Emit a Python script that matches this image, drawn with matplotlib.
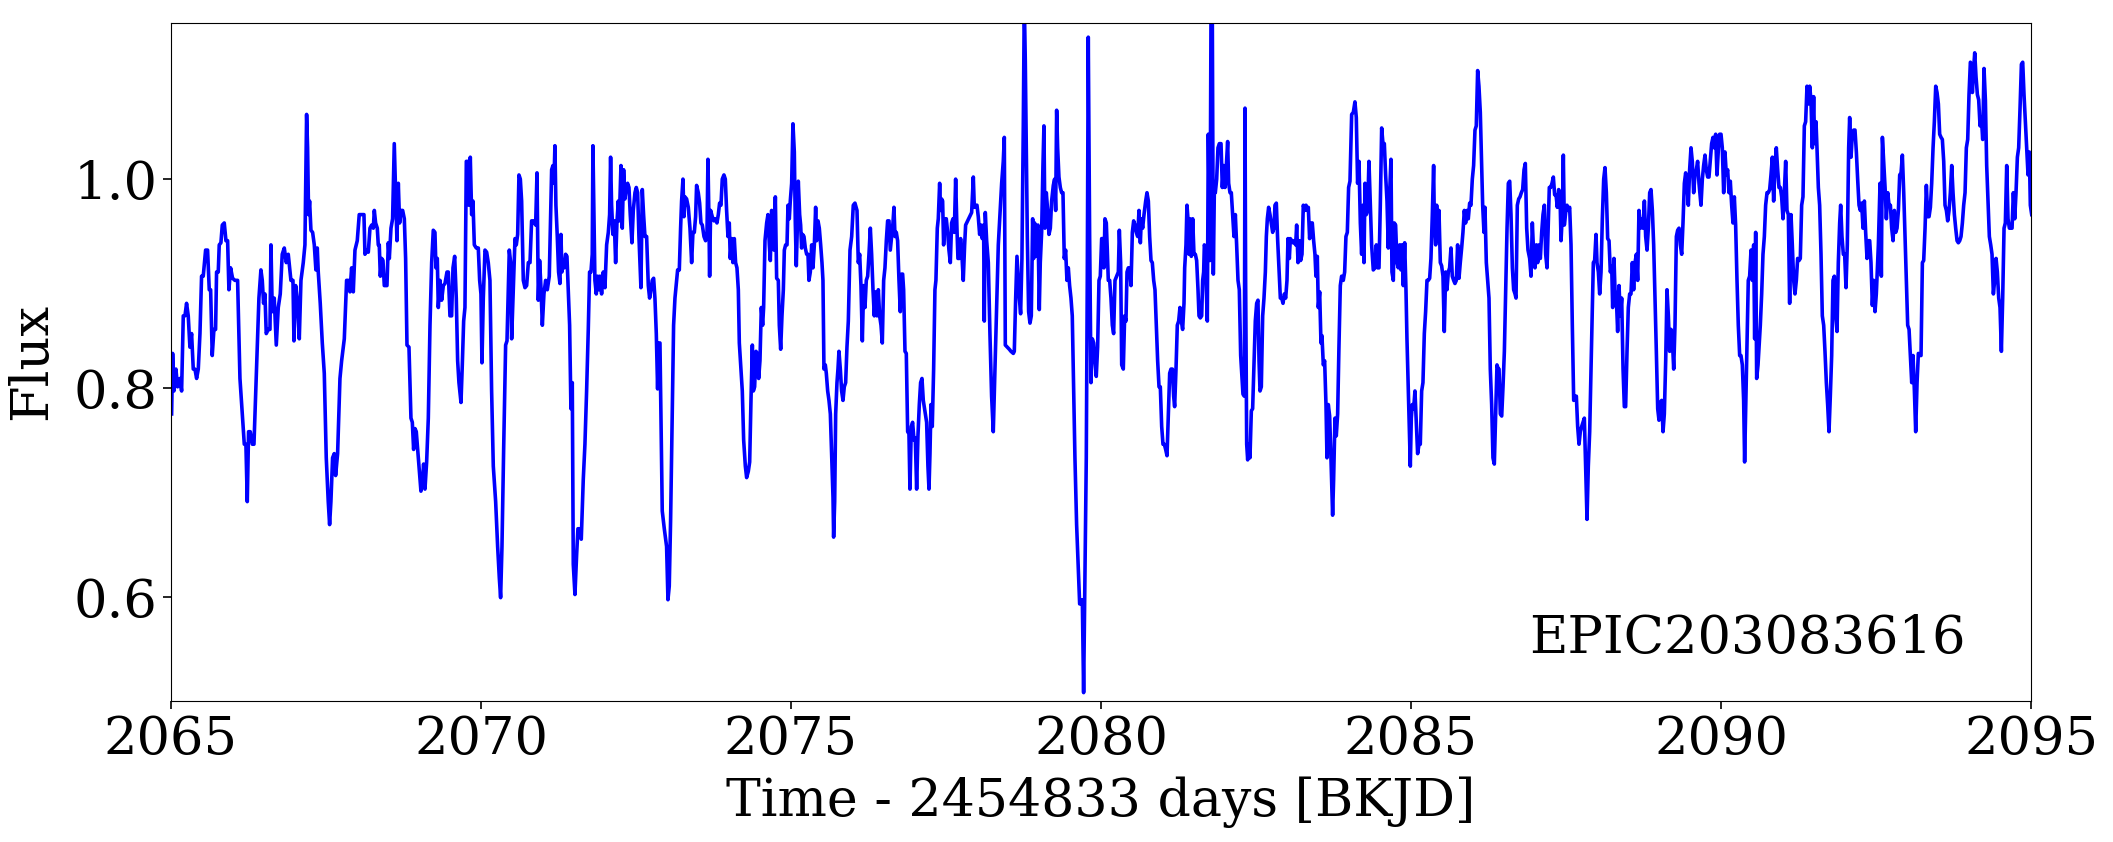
import matplotlib
matplotlib.use("Agg")
import matplotlib.pyplot as plt

plt.rcParams['font.family'] = ['DejaVu Serif']

x_label = "Time - 2454833 days [BKJD]"
y_label = "Flux"
target_name = "EPIC203083616"
x_ticks = [2065, 2070, 2075, 2080, 2085, 2090, 2095]
y_ticks = [0.6, 0.8, 1.0]

time = [
 2065.011, 2065.027, 2065.048, 2065.080, 2065.107, 2065.145, 2065.172, 2065.199, 2065.226, 2065.252, 2065.279, 2065.306, 2065.333, 2065.360, 2065.387, 2065.414, 2065.441, 2065.468, 2065.494, 2065.521, 2065.559, 2065.591, 2065.618, 2065.640, 2065.666, 2065.693, 2065.720, 2065.736, 2065.763, 2065.779, 2065.806, 2065.828, 2065.860, 2065.887, 2065.914, 2065.935, 2065.962, 2065.994, 2066.032, 2066.075, 2066.113, 2066.150, 2066.183, 2066.209, 2066.231, 2066.252, 2066.279, 2066.312, 2066.339, 2066.381, 2066.419, 2066.451, 2066.473, 2066.494, 2066.516, 2066.537, 2066.570, 2066.597, 2066.613, 2066.634, 2066.666, 2066.699, 2066.731, 2066.763, 2066.795, 2066.828, 2066.860, 2066.892, 2066.935, 2066.968, 2066.984, 2067.011, 2067.043, 2067.070, 2067.097, 2067.134, 2067.161, 2067.188, 2067.204, 2067.220, 2067.236, 2067.258, 2067.285, 2067.312, 2067.338, 2067.360, 2067.376, 2067.408, 2067.441, 2067.473, 2067.505, 2067.537, 2067.559, 2067.580, 2067.607, 2067.634, 2067.656, 2067.688, 2067.726, 2067.753, 2067.796, 2067.833, 2067.860, 2067.887, 2067.914, 2067.941, 2067.968, 2068.005, 2068.037,
 2068.049, 2068.075, 2068.113, 2068.129, 2068.156, 2068.183, 2068.210, 2068.237, 2068.264, 2068.280, 2068.301, 2068.328, 2068.344, 2068.360, 2068.377, 2068.398, 2068.420, 2068.441, 2068.463, 2068.484, 2068.506, 2068.522, 2068.549, 2068.575, 2068.602, 2068.624, 2068.645, 2068.667, 2068.688, 2068.710, 2068.737, 2068.764, 2068.785, 2068.807, 2068.839, 2068.871, 2068.893, 2068.914, 2068.936, 2068.957, 2068.979, 2069.006, 2069.032, 2069.054, 2069.075, 2069.097, 2069.124, 2069.151, 2069.178, 2069.205, 2069.231, 2069.258, 2069.274, 2069.296, 2069.312, 2069.339, 2069.366, 2069.393, 2069.420, 2069.452, 2069.473, 2069.500, 2069.527, 2069.549, 2069.576, 2069.602, 2069.624, 2069.645, 2069.678, 2069.699, 2069.721, 2069.742, 2069.764, 2069.785, 2069.807, 2069.828, 2069.850, 2069.871, 2069.893, 2069.925, 2069.957, 2069.979, 2070.000, 2070.016, 2070.038, 2070.065, 2070.092, 2070.118, 2070.145, 2070.172, 2070.199, 2070.237, 2070.269, 2070.296, 2070.317, 2070.339, 2070.366, 2070.398, 2070.420, 2070.441, 2070.457, 2070.479, 2070.495, 2070.527, 2070.549, 2070.570, 2070.592, 2070.613, 2070.635, 2070.656, 2070.683, 2070.710, 2070.737, 2070.764, 2070.791, 2070.817, 2070.850, 2070.882, 2070.904, 2070.925, 2070.946, 2070.968, 2070.990, 2071.016, 2071.043, 2071.070, 2071.102,
 2071.123, 2071.140, 2071.161, 2071.177, 2071.193, 2071.209, 2071.231, 2071.252, 2071.274, 2071.290, 2071.306, 2071.322, 2071.344, 2071.365, 2071.387, 2071.408, 2071.430, 2071.451, 2071.473, 2071.489, 2071.516, 2071.543, 2071.564, 2071.591, 2071.618, 2071.650, 2071.677, 2071.704, 2071.731, 2071.752, 2071.774, 2071.795, 2071.806, 2071.822, 2071.838, 2071.860, 2071.881, 2071.903, 2071.919, 2071.946, 2071.973, 2072.000, 2072.027, 2072.054, 2072.075, 2072.091, 2072.107, 2072.129, 2072.150, 2072.172, 2072.193, 2072.215, 2072.231, 2072.258, 2072.279, 2072.301, 2072.322, 2072.344, 2072.365, 2072.387, 2072.408, 2072.435, 2072.457, 2072.484, 2072.505, 2072.527, 2072.548, 2072.580, 2072.602, 2072.623, 2072.645, 2072.672, 2072.699, 2072.720, 2072.742, 2072.763, 2072.785, 2072.806, 2072.828, 2072.849, 2072.865, 2072.887, 2072.903, 2072.924, 2072.957, 2072.994, 2073.016, 2073.037, 2073.059, 2073.080, 2073.107, 2073.129, 2073.156, 2073.172, 2073.199, 2073.220, 2073.236, 2073.258, 2073.274, 2073.290, 2073.317, 2073.344, 2073.371, 2073.398, 2073.419, 2073.441, 2073.462, 2073.478, 2073.505, 2073.527, 2073.548, 2073.570, 2073.597, 2073.623, 2073.645, 2073.661, 2073.677, 2073.688, 2073.704, 2073.731, 2073.758, 2073.785, 2073.806, 2073.828, 2073.849, 2073.871, 2073.892, 2073.919, 2073.941, 2073.962, 2073.984, 2074.005, 2074.021, 2074.043, 2074.064, 2074.086, 2074.107, 2074.129, 2074.151, 2074.167,
 2074.194, 2074.215, 2074.237, 2074.264, 2074.285, 2074.312, 2074.334, 2074.355, 2074.377, 2074.393, 2074.414, 2074.436, 2074.457, 2074.479, 2074.500, 2074.522, 2074.543, 2074.559, 2074.581, 2074.608, 2074.629, 2074.651, 2074.667, 2074.688, 2074.710, 2074.726, 2074.748, 2074.769, 2074.796, 2074.812, 2074.834, 2074.855, 2074.877, 2074.893, 2074.914, 2074.936, 2074.952, 2074.973, 2074.989, 2075.011, 2075.032, 2075.054, 2075.070, 2075.086, 2075.108, 2075.118, 2075.140, 2075.156, 2075.172, 2075.188, 2075.210, 2075.231, 2075.253, 2075.274, 2075.290, 2075.312, 2075.334, 2075.355, 2075.377, 2075.398, 2075.414, 2075.436, 2075.457, 2075.479, 2075.500, 2075.516, 2075.532, 2075.554, 2075.570, 2075.592, 2075.613, 2075.635, 2075.656, 2075.678, 2075.688, 2075.705, 2075.721, 2075.742, 2075.758, 2075.774, 2075.796, 2075.817, 2075.839, 2075.860, 2075.882, 2075.903, 2075.925, 2075.952, 2075.979, 2076.005, 2076.032, 2076.065, 2076.086, 2076.108, 2076.129, 2076.151, 2076.172, 2076.194, 2076.215, 2076.237, 2076.258, 2076.280, 2076.301, 2076.323, 2076.344, 2076.366, 2076.387, 2076.409, 2076.430, 2076.452, 2076.473, 2076.495, 2076.516, 2076.538, 2076.559, 2076.581, 2076.602, 2076.624, 2076.645, 2076.661, 2076.678, 2076.699, 2076.720, 2076.742, 2076.763, 2076.785, 2076.801, 2076.817, 2076.839, 2076.860, 2076.882, 2076.903, 2076.919, 2076.941, 2076.962, 2076.984, 2077.005, 2077.027, 2077.048, 2077.070, 2077.091, 2077.113, 2077.134,
 2077.188, 2077.209, 2077.226, 2077.242, 2077.258, 2077.279, 2077.301, 2077.322, 2077.338, 2077.360, 2077.376, 2077.398, 2077.414, 2077.430, 2077.446, 2077.462, 2077.484, 2077.505, 2077.527, 2077.548, 2077.570, 2077.591, 2077.613, 2077.634, 2077.656, 2077.677, 2077.693, 2077.715, 2077.736, 2077.758, 2077.779, 2077.801, 2077.817, 2077.849, 2077.881, 2077.914, 2077.941, 2077.957, 2077.978, 2078.000, 2078.021, 2078.043, 2078.064, 2078.086, 2078.107, 2078.118, 2078.134, 2078.156, 2078.183, 2078.209, 2078.236, 2078.263, 2078.290, 2078.317, 2078.344, 2078.371, 2078.398, 2078.424, 2078.441, 2078.457, 2078.489, 2078.521, 2078.548, 2078.586, 2078.602, 2078.624, 2078.645, 2078.666, 2078.683, 2078.704, 2078.725, 2078.747, 2078.763, 2078.779, 2078.795, 2078.812, 2078.833, 2078.855, 2078.876, 2078.898, 2078.914, 2078.930, 2078.946, 2078.968, 2078.984, 2079.005, 2079.021, 2079.043, 2079.064, 2079.080, 2079.096, 2079.118, 2079.140, 2079.161, 2079.183, 2079.204, 2079.231, 2079.252, 2079.269, 2079.285, 2079.301, 2079.322, 2079.344, 2079.365, 2079.387, 2079.408, 2079.430, 2079.451, 2079.473, 2079.494, 2079.516, 2079.537, 2079.559, 2079.580, 2079.607, 2079.634, 2079.656, 2079.677, 2079.699, 2079.720, 2079.742, 2079.763, 2079.779, 2079.795, 2079.817, 2079.839, 2079.860, 2079.882, 2079.903, 2079.924, 2079.946, 2079.968, 2079.989, 2080.011, 2080.032, 2080.048, 2080.064, 2080.086, 2080.102, 2080.118, 2080.140, 2080.161, 2080.183, 2080.204, 2080.226,
 2080.253, 2080.280, 2080.296, 2080.317, 2080.334, 2080.360, 2080.382, 2080.403, 2080.420, 2080.441, 2080.463, 2080.484, 2080.506, 2080.527, 2080.549, 2080.570, 2080.592, 2080.613, 2080.635, 2080.651, 2080.672, 2080.694, 2080.721, 2080.742, 2080.764, 2080.785, 2080.807, 2080.828, 2080.850, 2080.871, 2080.893, 2080.914, 2080.936, 2080.957, 2080.979, 2081.000, 2081.022, 2081.043, 2081.065, 2081.086, 2081.108, 2081.129, 2081.151, 2081.172, 2081.188, 2081.210, 2081.231, 2081.253, 2081.274, 2081.296, 2081.317, 2081.339, 2081.350, 2081.371, 2081.387, 2081.403, 2081.420, 2081.436, 2081.457, 2081.479, 2081.500, 2081.522, 2081.543, 2081.565, 2081.581, 2081.602, 2081.624, 2081.640, 2081.656, 2081.667, 2081.683, 2081.699, 2081.715, 2081.731, 2081.747, 2081.758, 2081.774, 2081.785, 2081.796, 2081.812, 2081.828, 2081.844, 2081.866, 2081.887, 2081.909, 2081.936, 2081.957, 2081.979, 2082.000, 2082.022, 2082.043, 2082.059, 2082.081, 2082.102, 2082.124, 2082.145, 2082.167, 2082.188, 2082.210, 2082.231, 2082.253, 2082.274, 2082.290, 2082.312, 2082.323, 2082.333, 2082.350, 2082.366, 2082.382, 2082.403, 2082.425, 2082.446, 2082.468, 2082.489, 2082.511, 2082.532, 2082.549, 2082.565, 2082.586, 2082.608, 2082.629, 2082.651, 2082.667, 2082.683, 2082.704, 2082.726, 2082.747, 2082.769, 2082.790, 2082.806, 2082.828, 2082.850, 2082.871, 2082.893, 2082.914, 2082.936, 2082.957, 2082.979, 2083.000, 2083.016, 2083.038, 2083.054, 2083.075, 2083.097, 2083.118, 2083.140, 2083.156, 2083.178, 2083.199, 2083.220, 2083.242, 2083.263, 2083.285, 2083.307, 2083.328,
 2083.344, 2083.365, 2083.387, 2083.408, 2083.430, 2083.451, 2083.467, 2083.489, 2083.505, 2083.527, 2083.548, 2083.564, 2083.586, 2083.607, 2083.629, 2083.645, 2083.666, 2083.688, 2083.709, 2083.736, 2083.752, 2083.774, 2083.795, 2083.817, 2083.838, 2083.860, 2083.881, 2083.908, 2083.930, 2083.951, 2083.973, 2083.994, 2084.016, 2084.043, 2084.070, 2084.096, 2084.118, 2084.139, 2084.161, 2084.183, 2084.204, 2084.225, 2084.242, 2084.258, 2084.279, 2084.301, 2084.322, 2084.344, 2084.365, 2084.392, 2084.419, 2084.441, 2084.462, 2084.484, 2084.505, 2084.527, 2084.548, 2084.570, 2084.591, 2084.613, 2084.634, 2084.656, 2084.677, 2084.693, 2084.715, 2084.731, 2084.752, 2084.774, 2084.795, 2084.817, 2084.838, 2084.854, 2084.876, 2084.898, 2084.919, 2084.935, 2084.957, 2084.973, 2084.989, 2085.005, 2085.021, 2085.043, 2085.064, 2085.086, 2085.107, 2085.129, 2085.150, 2085.172, 2085.193, 2085.215, 2085.236, 2085.258, 2085.279, 2085.301, 2085.322, 2085.344, 2085.365, 2085.376, 2085.398, 2085.414, 2085.430, 2085.451, 2085.473, 2085.494, 2085.516, 2085.537, 2085.559, 2085.580, 2085.602, 2085.623, 2085.645, 2085.666, 2085.688, 2085.709, 2085.731, 2085.752, 2085.774, 2085.795, 2085.817, 2085.838, 2085.860, 2085.881, 2085.903, 2085.924, 2085.946, 2085.967, 2085.989, 2086.010, 2086.032, 2086.053, 2086.075, 2086.096, 2086.118, 2086.139, 2086.156, 2086.177, 2086.193, 2086.215, 2086.236, 2086.258, 2086.279, 2086.301, 2086.322, 2086.344, 2086.365, 2086.387, 2086.408,
 2086.420, 2086.441, 2086.463, 2086.484, 2086.506, 2086.527, 2086.549, 2086.570, 2086.592, 2086.613, 2086.635, 2086.656, 2086.678, 2086.694, 2086.715, 2086.737, 2086.758, 2086.780, 2086.801, 2086.823, 2086.844, 2086.866, 2086.887, 2086.914, 2086.936, 2086.957, 2086.979, 2087.000, 2087.022, 2087.043, 2087.065, 2087.086, 2087.108, 2087.129, 2087.151, 2087.172, 2087.194, 2087.215, 2087.231, 2087.253, 2087.274, 2087.296, 2087.317, 2087.339, 2087.360, 2087.382, 2087.403, 2087.420, 2087.441, 2087.457, 2087.473, 2087.495, 2087.516, 2087.538, 2087.559, 2087.581, 2087.602, 2087.624, 2087.645, 2087.667, 2087.688, 2087.710, 2087.731, 2087.753, 2087.774, 2087.796, 2087.817, 2087.839, 2087.860, 2087.882, 2087.903, 2087.925, 2087.941, 2087.962, 2087.984, 2088.000, 2088.022, 2088.043, 2088.065, 2088.086, 2088.108, 2088.129, 2088.151, 2088.172, 2088.194, 2088.215, 2088.237, 2088.253, 2088.274, 2088.290, 2088.312, 2088.333, 2088.355, 2088.376, 2088.398, 2088.420, 2088.441, 2088.462, 2088.484, 2088.505, 2088.527, 2088.548, 2088.570, 2088.591, 2088.613, 2088.635, 2088.656, 2088.677, 2088.699, 2088.720, 2088.742, 2088.764, 2088.785, 2088.807, 2088.828, 2088.850, 2088.871, 2088.893, 2088.914, 2088.936, 2088.957, 2088.979, 2089.000, 2089.022, 2089.043, 2089.065, 2089.086, 2089.108, 2089.129, 2089.151, 2089.172, 2089.194, 2089.215, 2089.237, 2089.258, 2089.280, 2089.301, 2089.323, 2089.344, 2089.366, 2089.387, 2089.409, 2089.430, 2089.452, 2089.473,
 2089.494, 2089.516, 2089.537, 2089.559, 2089.580, 2089.602, 2089.623, 2089.645, 2089.677, 2089.699, 2089.720, 2089.742, 2089.763, 2089.785, 2089.806, 2089.828, 2089.849, 2089.871, 2089.892, 2089.914, 2089.935, 2089.957, 2089.978, 2090.000, 2090.021, 2090.043, 2090.064, 2090.086, 2090.107, 2090.129, 2090.150, 2090.172, 2090.193, 2090.215, 2090.236, 2090.258, 2090.279, 2090.301, 2090.322, 2090.344, 2090.365, 2090.381, 2090.398, 2090.419, 2090.440, 2090.462, 2090.484, 2090.505, 2090.527, 2090.543, 2090.559, 2090.575, 2090.597, 2090.613, 2090.634, 2090.656, 2090.677, 2090.699, 2090.720, 2090.742, 2090.763, 2090.785, 2090.806, 2090.828, 2090.849, 2090.871, 2090.892, 2090.914, 2090.935, 2090.957, 2090.978, 2091.000, 2091.021, 2091.043, 2091.064, 2091.086, 2091.107, 2091.129, 2091.150, 2091.172, 2091.193, 2091.215, 2091.236, 2091.258, 2091.279, 2091.301, 2091.322, 2091.344, 2091.365, 2091.387, 2091.408, 2091.430, 2091.451, 2091.473, 2091.494, 2091.510, 2091.532, 2091.548, 2091.570, 2091.591, 2091.613, 2091.634, 2091.656, 2091.677, 2091.699, 2091.720, 2091.742, 2091.763, 2091.785, 2091.806, 2091.828, 2091.849, 2091.871, 2091.892, 2091.914, 2091.930, 2091.951, 2091.973, 2091.994, 2092.016, 2092.037, 2092.059, 2092.075, 2092.097, 2092.118, 2092.140, 2092.161, 2092.183, 2092.204, 2092.226, 2092.247, 2092.269, 2092.290, 2092.312, 2092.333, 2092.355, 2092.376, 2092.398, 2092.419, 2092.441, 2092.462, 2092.484, 2092.505,
 2092.538, 2092.565, 2092.586, 2092.603, 2092.624, 2092.646, 2092.667, 2092.689, 2092.710, 2092.732, 2092.753, 2092.775, 2092.796, 2092.818, 2092.839, 2092.861, 2092.882, 2092.904, 2092.925, 2092.947, 2092.968, 2092.990, 2093.011, 2093.033, 2093.054, 2093.076, 2093.097, 2093.119, 2093.140, 2093.162, 2093.183, 2093.205, 2093.226, 2093.248, 2093.269, 2093.291, 2093.312, 2093.334, 2093.355, 2093.377, 2093.398, 2093.420, 2093.441, 2093.463, 2093.484, 2093.506, 2093.527, 2093.549, 2093.570, 2093.592, 2093.613, 2093.635, 2093.656, 2093.678, 2093.699, 2093.721, 2093.742, 2093.764, 2093.785, 2093.807, 2093.828, 2093.850, 2093.871, 2093.893, 2093.914, 2093.936, 2093.957, 2093.979, 2094.000, 2094.022, 2094.043, 2094.054, 2094.070, 2094.092, 2094.113, 2094.135, 2094.156, 2094.178, 2094.199, 2094.221, 2094.242, 2094.264, 2094.285, 2094.307, 2094.328, 2094.350, 2094.371, 2094.393, 2094.414, 2094.436, 2094.457, 2094.479, 2094.500, 2094.522, 2094.543, 2094.565, 2094.586, 2094.608, 2094.629, 2094.651, 2094.672, 2094.694, 2094.715, 2094.737, 2094.758, 2094.780, 2094.801, 2094.823, 2094.845, 2094.866, 2094.887, 2094.909, 2094.930, 2094.952, 2094.973, 2094.989, 2095.011,
]

flux = [
 0.775, 0.833, 0.797, 0.818, 0.801, 0.809, 0.797, 0.869, 0.869, 0.881, 0.869, 0.839, 0.852, 0.818, 0.818, 0.809, 0.818, 0.852, 0.907, 0.907, 0.932, 0.932, 0.894, 0.894, 0.831, 0.856, 0.856, 0.911, 0.911, 0.937, 0.939, 0.956, 0.958, 0.941, 0.941, 0.894, 0.915, 0.905, 0.903, 0.903, 0.809, 0.775, 0.746, 0.746, 0.691, 0.758, 0.758, 0.746, 0.746, 0.818, 0.886, 0.913, 0.903, 0.881, 0.890, 0.852, 0.856, 0.856, 0.937, 0.873, 0.886, 0.841, 0.877, 0.890, 0.928, 0.934, 0.920, 0.928, 0.903, 0.903, 0.845, 0.898, 0.881, 0.847, 0.903, 0.920, 0.937, 1.062, 1.030, 0.966, 0.979, 0.951, 0.949, 0.937, 0.913, 0.934, 0.911, 0.881, 0.843, 0.814, 0.733, 0.691, 0.669, 0.691, 0.733, 0.737, 0.716, 0.737, 0.809, 0.826, 0.847, 0.903, 0.903, 0.892, 0.915, 0.892, 0.932, 0.941, 0.966,
 0.966, 0.966, 0.966, 0.928, 0.932, 0.930, 0.953, 0.956, 0.953, 0.970, 0.958, 0.953, 0.937, 0.937, 0.907, 0.924, 0.922, 0.898, 0.898, 0.898, 0.939, 0.924, 0.953, 0.962, 1.034, 0.987, 0.941, 0.996, 0.958, 0.970, 0.970, 0.962, 0.924, 0.841, 0.839, 0.771, 0.767, 0.741, 0.761, 0.758, 0.741, 0.720, 0.701, 0.708, 0.727, 0.703, 0.729, 0.771, 0.860, 0.920, 0.951, 0.949, 0.915, 0.924, 0.877, 0.903, 0.884, 0.898, 0.900, 0.911, 0.911, 0.869, 0.869, 0.915, 0.926, 0.886, 0.826, 0.805, 0.786, 0.822, 0.864, 0.877, 1.017, 1.017, 0.975, 1.021, 0.966, 0.979, 0.937, 0.934, 0.934, 0.903, 0.890, 0.824, 0.886, 0.932, 0.930, 0.920, 0.903, 0.797, 0.725, 0.691, 0.648, 0.618, 0.599, 0.648, 0.741, 0.841, 0.845, 0.894, 0.932, 0.920, 0.847, 0.903, 0.943, 0.937, 0.947, 1.004, 1.000, 0.979, 0.903, 0.896, 0.898, 0.920, 0.920, 0.960, 0.960, 0.956, 1.006, 0.884, 0.922, 0.896, 0.860, 0.890, 0.903, 0.894, 0.907,
 0.966, 1.009, 1.013, 0.996, 1.032, 0.975, 0.945, 0.911, 0.900, 0.947, 0.911, 0.920, 0.915, 0.928, 0.926, 0.894, 0.860, 0.780, 0.805, 0.631, 0.602, 0.640, 0.665, 0.665, 0.655, 0.712, 0.746, 0.797, 0.856, 0.911, 0.911, 0.928, 1.032, 0.966, 0.903, 0.890, 0.907, 0.894, 0.907, 0.890, 0.911, 0.896, 0.937, 0.949, 0.966, 1.021, 0.975, 0.947, 0.960, 0.920, 0.958, 0.979, 0.960, 1.013, 0.953, 1.009, 0.981, 0.992, 0.996, 0.992, 0.966, 0.939, 0.970, 0.987, 0.992, 0.987, 0.945, 0.896, 0.990, 0.966, 0.945, 0.945, 0.898, 0.886, 0.894, 0.903, 0.905, 0.886, 0.852, 0.799, 0.843, 0.843, 0.775, 0.682, 0.665, 0.648, 0.597, 0.610, 0.674, 0.754, 0.860, 0.886, 0.903, 0.913, 0.913, 0.953, 0.979, 1.000, 0.964, 0.983, 0.981, 0.973, 0.953, 0.920, 0.949, 0.949, 0.964, 0.994, 0.987, 0.977, 0.958, 0.956, 0.945, 0.941, 0.945, 1.019, 0.962, 0.907, 0.970, 0.964, 0.960, 0.962, 0.958, 0.966, 0.977, 0.975, 1.000, 1.004, 1.000, 0.970, 0.945, 0.958, 0.924, 0.943, 0.920, 0.943, 0.920, 0.915, 0.894, 0.843,
 0.818, 0.797, 0.750, 0.725, 0.714, 0.720, 0.729, 0.788, 0.841, 0.797, 0.801, 0.835, 0.833, 0.809, 0.826, 0.877, 0.860, 0.877, 0.941, 0.958, 0.966, 0.937, 0.922, 0.970, 0.953, 0.932, 0.983, 0.905, 0.903, 0.860, 0.837, 0.869, 0.894, 0.932, 0.937, 0.937, 0.975, 0.962, 0.979, 0.996, 1.053, 1.026, 0.958, 0.917, 0.966, 0.998, 0.966, 0.956, 0.934, 0.947, 0.945, 0.934, 0.928, 0.928, 0.903, 0.911, 0.937, 0.915, 0.937, 0.973, 0.941, 0.960, 0.953, 0.937, 0.920, 0.903, 0.818, 0.822, 0.814, 0.797, 0.788, 0.775, 0.737, 0.695, 0.657, 0.691, 0.775, 0.805, 0.818, 0.835, 0.818, 0.797, 0.788, 0.801, 0.805, 0.839, 0.864, 0.932, 0.945, 0.975, 0.977, 0.970, 0.920, 0.928, 0.898, 0.845, 0.898, 0.877, 0.903, 0.907, 0.928, 0.953, 0.928, 0.894, 0.869, 0.892, 0.869, 0.894, 0.869, 0.860, 0.843, 0.903, 0.915, 0.941, 0.960, 0.960, 0.932, 0.945, 0.958, 0.973, 0.945, 0.949, 0.941, 0.903, 0.873, 0.909, 0.909, 0.894, 0.835, 0.833, 0.758, 0.756, 0.703, 0.763, 0.767, 0.750, 0.752, 0.703, 0.754, 0.784, 0.805, 0.809, 0.788,
 0.767, 0.725, 0.703, 0.737, 0.784, 0.763, 0.818, 0.894, 0.903, 0.953, 0.962, 0.996, 0.970, 0.981, 0.979, 0.937, 0.962, 0.962, 0.949, 0.932, 0.920, 0.958, 0.962, 0.949, 1.000, 0.953, 0.924, 0.924, 0.943, 0.926, 0.903, 0.937, 0.956, 0.960, 0.964, 0.968, 1.002, 0.973, 0.975, 0.975, 0.964, 0.947, 0.956, 0.943, 0.956, 0.864, 0.968, 0.941, 0.920, 0.852, 0.792, 0.758, 0.818, 0.881, 0.937, 0.966, 0.996, 1.017, 1.040, 0.841, 0.839, 0.837, 0.835, 0.833, 0.835, 0.886, 0.926, 0.903, 0.886, 0.871, 0.924, 1.051, 1.170, 1.115, 1.030, 0.945, 0.873, 0.862, 0.869, 0.962, 0.924, 0.958, 0.926, 0.953, 0.956, 0.875, 0.920, 0.949, 1.013, 1.051, 0.953, 0.987, 0.970, 0.947, 0.953, 0.979, 0.994, 1.000, 0.970, 1.066, 1.030, 1.002, 0.992, 0.987, 0.987, 0.924, 0.932, 0.903, 0.915, 0.898, 0.886, 0.869, 0.797, 0.733, 0.669, 0.627, 0.593, 0.593, 0.597, 0.508, 0.627, 0.733, 0.903, 1.136, 0.945, 0.805, 0.847, 0.843, 0.826, 0.811, 0.839, 0.903, 0.907, 0.943, 0.943, 0.915, 0.962, 0.958, 0.932, 0.903, 0.903, 0.886, 0.860, 0.852, 0.903,
 0.907, 0.911, 0.951, 0.920, 0.822, 0.818, 0.869, 0.864, 0.911, 0.915, 0.915, 0.898, 0.949, 0.960, 0.956, 0.949, 0.945, 0.970, 0.939, 0.962, 0.953, 0.966, 0.979, 0.987, 0.979, 0.945, 0.922, 0.920, 0.903, 0.894, 0.860, 0.826, 0.801, 0.801, 0.763, 0.746, 0.746, 0.741, 0.735, 0.775, 0.814, 0.818, 0.818, 0.792, 0.782, 0.818, 0.860, 0.864, 0.877, 0.864, 0.856, 0.881, 0.915, 0.937, 0.975, 0.962, 0.928, 0.962, 0.926, 0.962, 0.928, 0.928, 0.922, 0.894, 0.869, 0.867, 0.869, 0.903, 0.911, 0.937, 0.934, 0.894, 0.864, 1.043, 0.975, 0.922, 1.151, 1.174, 1.151, 0.909, 0.987, 0.987, 1.000, 1.030, 1.034, 1.034, 0.992, 1.013, 0.992, 1.013, 1.036, 0.996, 0.987, 0.987, 0.966, 0.945, 0.966, 0.937, 0.903, 0.894, 0.831, 0.809, 0.794, 0.792, 1.068, 0.903, 0.746, 0.731, 0.746, 0.733, 0.778, 0.780, 0.822, 0.864, 0.881, 0.884, 0.826, 0.797, 0.801, 0.869, 0.886, 0.911, 0.945, 0.962, 0.973, 0.966, 0.958, 0.949, 0.953, 0.975, 0.977, 0.941, 0.915, 0.886, 0.886, 0.881, 0.890, 0.886, 0.903, 0.943, 0.924, 0.943, 0.941, 0.939, 0.941, 0.937, 0.956, 0.920, 0.941, 0.922, 0.928, 0.975, 0.970, 0.975, 0.970,
 0.973, 0.943, 0.958, 0.958, 0.941, 0.928, 0.907, 0.926, 0.877, 0.892, 0.843, 0.850, 0.822, 0.826, 0.784, 0.733, 0.784, 0.773, 0.733, 0.678, 0.712, 0.771, 0.754, 0.775, 0.839, 0.898, 0.907, 0.903, 0.911, 0.945, 0.949, 0.992, 0.998, 1.062, 1.064, 1.074, 1.059, 0.996, 1.017, 0.958, 0.928, 0.975, 0.920, 0.996, 0.966, 0.970, 1.017, 0.975, 0.937, 0.913, 0.915, 0.937, 0.915, 0.915, 0.975, 1.049, 1.034, 1.034, 1.004, 0.979, 0.934, 0.987, 1.019, 0.911, 0.903, 0.958, 0.956, 0.920, 0.915, 0.937, 0.913, 0.937, 0.898, 0.939, 0.894, 0.847, 0.797, 0.763, 0.725, 0.771, 0.784, 0.780, 0.797, 0.767, 0.737, 0.746, 0.746, 0.797, 0.805, 0.852, 0.873, 0.903, 0.903, 0.905, 0.924, 0.966, 1.013, 0.962, 0.937, 0.975, 0.941, 0.970, 0.920, 0.917, 0.907, 0.854, 0.911, 0.894, 0.911, 0.915, 0.934, 0.907, 0.903, 0.900, 0.903, 0.937, 0.905, 0.920, 0.934, 0.949, 0.970, 0.958, 0.970, 0.962, 0.977, 0.975, 1.000, 1.013, 1.047, 1.051, 1.104, 1.089, 1.064, 1.017, 0.975, 0.949, 0.973, 0.920, 0.903, 0.886, 0.818, 0.784, 0.733, 0.727, 0.775, 0.822, 0.818,
 0.818, 0.775, 0.773, 0.801, 0.835, 0.894, 0.953, 0.996, 0.998, 0.966, 0.915, 0.894, 0.890, 0.886, 0.975, 0.981, 0.983, 0.987, 0.990, 1.009, 1.015, 0.953, 0.932, 0.924, 0.907, 0.958, 0.928, 0.915, 0.937, 0.920, 0.937, 0.924, 0.949, 0.966, 0.975, 0.928, 0.915, 0.958, 0.992, 0.992, 0.996, 1.002, 0.985, 0.985, 0.973, 0.990, 0.985, 0.941, 0.966, 1.023, 0.956, 0.968, 0.975, 0.970, 0.973, 0.937, 0.860, 0.788, 0.792, 0.792, 0.763, 0.746, 0.758, 0.763, 0.767, 0.771, 0.725, 0.674, 0.725, 0.758, 0.818, 0.877, 0.920, 0.922, 0.947, 0.920, 0.911, 0.890, 0.911, 0.962, 1.000, 1.011, 0.987, 0.943, 0.941, 0.911, 0.917, 0.877, 0.924, 0.894, 0.886, 0.854, 0.898, 0.869, 0.886, 0.818, 0.782, 0.782, 0.835, 0.877, 0.890, 0.890, 0.920, 0.894, 0.920, 0.928, 0.903, 0.970, 0.953, 0.962, 0.953, 0.979, 0.945, 0.932, 0.953, 0.987, 0.990, 0.970, 0.937, 0.886, 0.835, 0.780, 0.769, 0.786, 0.788, 0.758, 0.775, 0.826, 0.894, 0.869, 0.835, 0.856, 0.847, 0.818, 0.860, 0.945, 0.951, 0.953, 0.937, 0.928, 0.958, 0.996, 1.006, 0.996, 0.975,
 1.009, 1.030, 1.017, 0.987, 1.004, 1.009, 1.017, 0.996, 0.975, 1.000, 1.013, 1.023, 1.009, 1.002, 1.002, 1.019, 1.034, 1.040, 1.030, 1.043, 1.004, 1.028, 1.043, 1.043, 1.030, 0.987, 1.026, 1.004, 1.009, 0.987, 0.998, 0.975, 0.958, 0.983, 0.956, 0.903, 0.860, 0.831, 0.831, 0.822, 0.788, 0.729, 0.780, 0.843, 0.903, 0.907, 0.932, 0.903, 0.937, 0.847, 0.949, 0.809, 0.822, 0.839, 0.860, 0.890, 0.928, 0.945, 0.975, 0.987, 0.987, 0.990, 1.004, 1.021, 0.979, 1.013, 1.030, 1.009, 0.992, 0.992, 0.983, 0.962, 0.987, 1.017, 0.970, 0.966, 0.881, 0.966, 0.937, 0.903, 0.890, 0.903, 0.924, 0.922, 0.924, 0.975, 0.983, 1.051, 1.055, 1.089, 1.072, 1.089, 1.076, 1.030, 1.079, 1.034, 1.055, 1.030, 0.992, 0.975, 0.928, 0.869, 0.860, 0.835, 0.805, 0.784, 0.758, 0.792, 0.831, 0.903, 0.907, 0.869, 0.854, 0.920, 0.958, 0.975, 0.945, 0.928, 0.928, 0.896, 0.937, 1.030, 1.059, 1.021, 1.043, 1.047, 1.047, 1.026, 1.000, 0.975, 0.970, 0.977, 0.953, 0.979, 0.949, 0.924, 0.941, 0.941, 0.920, 0.879, 0.903, 0.873, 0.890,
 0.937, 0.996, 0.907, 1.040, 1.017, 0.992, 0.962, 0.987, 0.975, 0.975, 0.953, 0.941, 0.970, 0.949, 0.953, 0.970, 1.004, 1.006, 1.023, 0.987, 0.945, 0.903, 0.860, 0.856, 0.831, 0.805, 0.831, 0.797, 0.758, 0.805, 0.833, 0.831, 0.831, 0.920, 0.922, 0.953, 0.994, 0.964, 0.964, 0.973, 0.996, 1.030, 1.055, 1.089, 1.083, 1.072, 1.043, 1.040, 1.038, 1.017, 0.975, 0.970, 0.960, 0.970, 0.987, 1.013, 0.987, 0.966, 0.953, 0.941, 0.939, 0.941, 0.945, 0.958, 0.975, 0.987, 1.030, 1.038, 1.081, 1.112, 1.110, 1.083, 1.102, 1.121, 1.098, 1.081, 1.076, 1.051, 1.059, 1.038, 1.106, 1.076, 1.013, 0.979, 0.945, 0.937, 0.928, 0.890, 0.903, 0.924, 0.911, 0.886, 0.877, 0.835, 0.886, 0.953, 0.958, 1.013, 0.962, 0.953, 0.953, 0.953, 0.987, 0.962, 0.987, 1.021, 1.030, 1.068, 1.110, 1.112, 1.081, 1.055, 1.030, 1.004, 1.026, 0.975, 0.966,
]

fig = plt.figure(figsize=(21.13, 8.42), dpi=100)
ax = fig.add_axes([0.0809, 0.1675, 0.8803, 0.8057])
ax.plot(time, flux, color='blue', linewidth=2.6)
ax.set_xlim(2065, 2095)
ax.set_ylim(0.5, 1.15)
ax.set_xticks(x_ticks)
ax.set_yticks(y_ticks)
ax.set_yticklabels([f"{v:.1f}" for v in y_ticks])
ax.tick_params(axis='both', labelsize=38, length=6, width=1.2)
ax.set_xlabel(x_label, fontsize=37.5, labelpad=8)
ax.set_ylabel(y_label, fontsize=38, labelpad=12)
ax.text(0.965, 0.055, target_name, transform=ax.transAxes, ha='right', va='bottom', fontsize=38)
fig.savefig("out.png", dpi=100)
